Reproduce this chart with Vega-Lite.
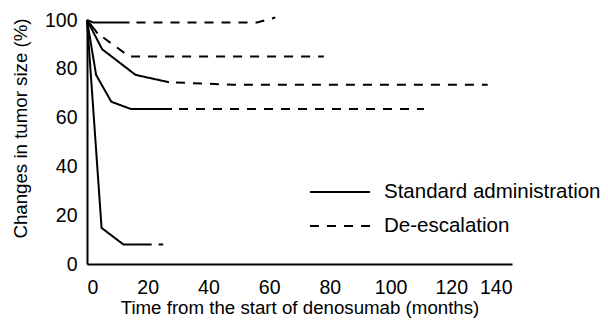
{
  "$schema": "https://vega.github.io/schema/vega-lite/v6.json",
  "width": 425,
  "height": 244,
  "autosize": {"type": "none"},
  "padding": {"left": 87, "top": 20, "right": 96, "bottom": 63},
  "background": "white",
  "config": {
    "view": {"stroke": null},
    "font": "Liberation Sans",
    "axis": {
      "domainColor": "black",
      "domainWidth": 2,
      "ticks": false,
      "grid": false,
      "labelFont": "Liberation Sans",
      "labelFontSize": 19.5,
      "labelColor": "black",
      "titleFont": "Liberation Sans",
      "titleFontSize": 18.7,
      "titleFontWeight": "normal",
      "titleColor": "black"
    },
    "legend": {
      "labelFont": "Liberation Sans",
      "labelFontSize": 20.5,
      "labelColor": "black",
      "labelLimit": 0
    }
  },
  "data": {
    "values": [
      {"seg": "A1", "type": "Standard administration", "month": 0, "pct": 100},
      {"seg": "A1", "type": "Standard administration", "month": 2, "pct": 99},
      {"seg": "A1", "type": "Standard administration", "month": 14, "pct": 99},
      {"seg": "A2", "type": "De-escalation", "month": 14, "pct": 99},
      {"seg": "A2", "type": "De-escalation", "month": 56, "pct": 99},
      {"seg": "A2", "type": "De-escalation", "month": 62, "pct": 101},
      {"seg": "B1", "type": "Standard administration", "month": 0, "pct": 100},
      {"seg": "B1", "type": "Standard administration", "month": 3.5, "pct": 94.5},
      {"seg": "B2", "type": "De-escalation", "month": 3.5, "pct": 94.5},
      {"seg": "B2", "type": "De-escalation", "month": 14, "pct": 85},
      {"seg": "B2", "type": "De-escalation", "month": 78, "pct": 85},
      {"seg": "C1", "type": "Standard administration", "month": 0, "pct": 100},
      {"seg": "C1", "type": "Standard administration", "month": 5, "pct": 88},
      {"seg": "C1", "type": "Standard administration", "month": 16, "pct": 77.5},
      {"seg": "C1", "type": "Standard administration", "month": 27, "pct": 74.5},
      {"seg": "C2", "type": "De-escalation", "month": 27, "pct": 74.5},
      {"seg": "C2", "type": "De-escalation", "month": 48, "pct": 73.5},
      {"seg": "C2", "type": "De-escalation", "month": 132, "pct": 73.5},
      {"seg": "D1", "type": "Standard administration", "month": 0, "pct": 100},
      {"seg": "D1", "type": "Standard administration", "month": 3, "pct": 77.5},
      {"seg": "D1", "type": "Standard administration", "month": 8, "pct": 66.5},
      {"seg": "D1", "type": "Standard administration", "month": 14.5, "pct": 63.5},
      {"seg": "D1", "type": "Standard administration", "month": 28, "pct": 63.5},
      {"seg": "D2", "type": "De-escalation", "month": 28, "pct": 63.5},
      {"seg": "D2", "type": "De-escalation", "month": 111, "pct": 63.5},
      {"seg": "E1", "type": "Standard administration", "month": 0, "pct": 100},
      {"seg": "E1", "type": "Standard administration", "month": 4.8, "pct": 14.8},
      {"seg": "E1", "type": "Standard administration", "month": 12, "pct": 8},
      {"seg": "E1", "type": "Standard administration", "month": 21.3, "pct": 8},
      {"seg": "E2", "type": "De-escalation", "month": 21.3, "pct": 8},
      {"seg": "E2", "type": "De-escalation", "month": 25.1, "pct": 8}
    ]
  },
  "mark": {"type": "line", "color": "black", "strokeWidth": 2, "strokeDashOffset": 10, "clip": false},
  "encoding": {
    "x": {
      "field": "month",
      "type": "quantitative",
      "scale": {"domain": [0, 140], "nice": false, "zero": true},
      "axis": {
        "values": [0, 20, 40, 60, 80, 100, 120, 140],
        "labelPadding": 14,
        "title": "Time from the start of denosumab (months)",
        "titlePadding": 2
      }
    },
    "y": {
      "field": "pct",
      "type": "quantitative",
      "scale": {"domain": [0, 100], "nice": false},
      "axis": {
        "values": [0, 20, 40, 60, 80, 100],
        "labelPadding": 10,
        "title": "Changes in tumor size (%)",
        "titleX": -67,
        "titleY": 108,
        "titleBaseline": "middle"
      }
    },
    "detail": {"field": "seg"},
    "strokeDash": {
      "field": "type",
      "type": "nominal",
      "scale": {
        "domain": ["Standard administration", "De-escalation"],
        "range": [[1, 0], [9, 8]]
      },
      "legend": {
        "title": null,
        "orient": "none",
        "legendX": 242,
        "legendY": 161,
        "rowPadding": 12,
        "symbolType": "M-3,0H3",
        "symbolSize": 400,
        "symbolStrokeWidth": 2,
        "symbolStrokeColor": "black",
        "labelOffset": 33
      }
    }
  }
}
